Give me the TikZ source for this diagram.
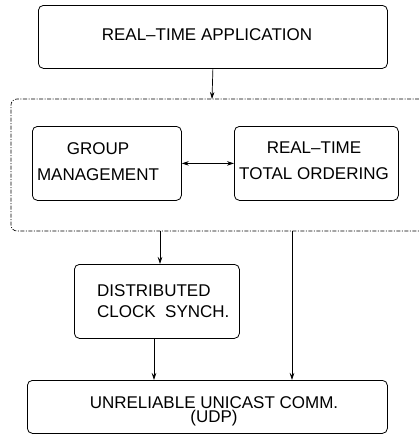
\documentclass[tikz,border=0pt]{standalone}
\usepackage{fontspec}
\setmainfont{Liberation Sans}
\usetikzlibrary{arrows.meta}
\begin{document}
\begin{tikzpicture}[x=1pt,y=-1pt,
  box/.style={draw,rounded corners=5pt,line width=0.8pt,inner sep=0pt,anchor=north west},
  lbl/.style={inner sep=0pt,font=\fontsize{17}{26}\selectfont},
  arr/.style={line width=0.7pt,-{Stealth[length=7pt,width=4.5pt]}},
  group/.style={line width=0.6pt,rounded corners=6pt,dash pattern=on 4pt off 1.5pt on 1pt off 1.5pt}]
\useasboundingbox (0,0) rectangle (419,434);
% boxes
\node[box,minimum width=349pt,minimum height=63pt] (app) at (38,5) {};
\node[box,minimum width=149pt,minimum height=74pt] (gm) at (32,126) {};
\node[box,minimum width=164pt,minimum height=74pt] (rt) at (234,126) {};
\node[box,minimum width=165pt,minimum height=74pt] (clk) at (74,264) {};
\node[box,minimum width=360pt,minimum height=53pt] (udp) at (27,380) {};
% labels
\node[lbl,anchor=north] (appt) at (207,28) {REAL--TIME APPLICATION};
\node[lbl,anchor=north,align=center] (gmt) at (98,142) {GROUP\\MANAGEMENT};
\node[lbl,anchor=north,align=center] (rtt) at (314,142) {REAL--TIME\\TOTAL ORDERING};
\node[lbl,anchor=north west,align=left,font=\fontsize{17}{21.7}\selectfont] (clkt) at (97,284) {DISTRIBUTED\\CLOCK\ \ SYNCH.};
\node[lbl,anchor=north,align=center,font=\fontsize{17}{14.5}\selectfont] (udpt) at (214,396) {UNRELIABLE UNICAST COMM.\\(UDP)};
% dash-dotted group around the ordering layer, open to the right
\coordinate (gtop) at (212,99);
\coordinate (gbl) at (160,231);
\coordinate (gbr) at (292,231);
\draw[group] (419,99) -- (11,99) -- (11,231) -- (419,231);
% connectors
\draw[arr] (app.south) -- (gtop);
\draw[line width=0.7pt,{Stealth[length=7pt,width=4.5pt]}-{Stealth[length=7pt,width=4.5pt]}] (gm.east) -- (rt.west);
\draw[arr] (gbl) -- (gbl |- clk.north);
\draw[arr] (gbr) -- (gbr |- udp.north);
\draw[arr] (clk.south -| 154,0) -- (udp.north -| 154,0);
\end{tikzpicture}
\end{document}
